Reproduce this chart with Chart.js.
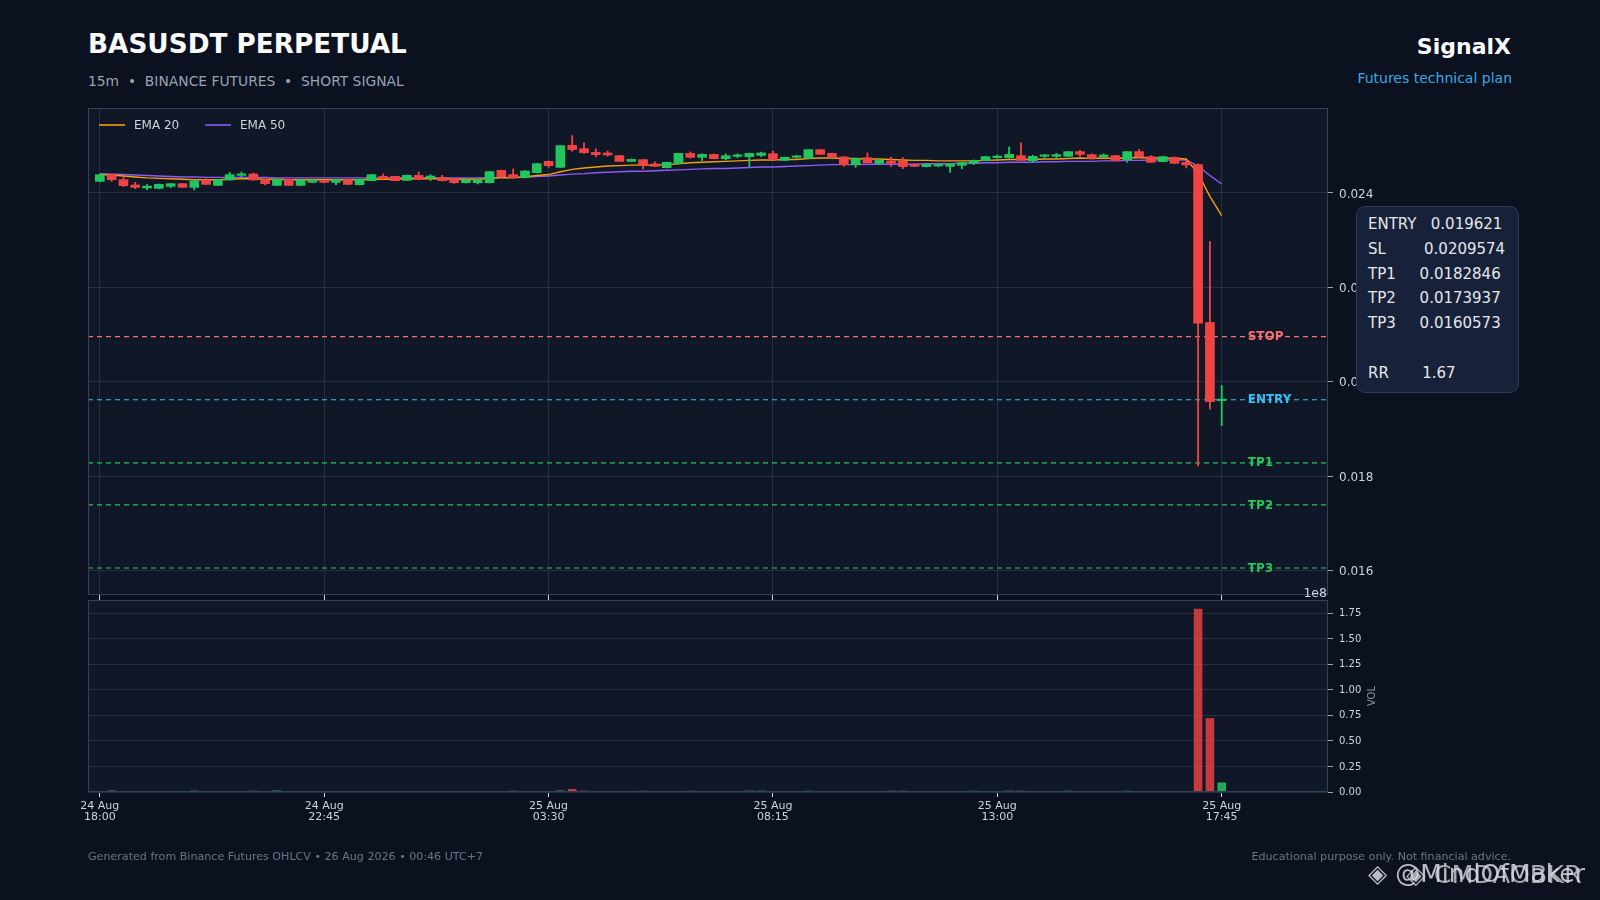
<!DOCTYPE html>
<html><head><meta charset="utf-8">
<script src="https://cdn.jsdelivr.net/npm/chart.js@4.4.1/dist/chart.umd.min.js"></script>
<style>
html,body{margin:0;padding:0;background:#0b111e;width:1600px;height:900px;overflow:hidden;font-family:"DejaVu Sans",sans-serif;}
.t{position:absolute;white-space:pre;line-height:normal;}
canvas{position:absolute;left:0;}
#info{position:absolute;left:1356px;top:206px;width:161px;height:185px;background:#17223a;border:1px solid #2f3c52;border-radius:9px;}
#infotxt{position:absolute;left:11px;top:5px;font-size:15px;line-height:24.75px;color:#e5e7eb;white-space:pre;}
</style></head><body>
<div class="t" style="left:88px;top:28.6px;font-size:26.3px;font-weight:bold;color:#f8fafc">BASUSDT PERPETUAL</div>
<div class="t" style="left:88px;top:73.4px;font-size:13.85px;color:#9aa3b2">15m  •  BINANCE FUTURES  •  SHORT SIGNAL</div>
<div class="t" style="right:89px;top:34px;font-size:22px;font-weight:bold;color:#f8fafc">SignalX</div>
<div class="t" style="right:88px;top:70px;font-size:14px;color:#38a9e2">Futures technical plan</div>
<canvas id="main" width="1600" height="610" style="top:0"></canvas>
<canvas id="vol" width="1600" height="320" style="top:580px"></canvas>
<div id="info"><div id="infotxt"></div></div>
<div class="t" style="left:88px;top:849.7px;font-size:11.1px;color:#6b7585">Generated from Binance Futures OHLCV • 26 Aug 2026 • 00:46 UTC+7</div>
<div class="t" style="right:89px;top:849.7px;font-size:11.1px;color:#6b7585">Educational purpose only. Not financial advice.</div>
<div class="t" style="left:1368px;top:859px;font-size:25px;color:rgba(215,218,224,0.85)">◈ @MindOfMaker</div>
<div class="t" style="left:1406px;top:859px;font-size:25.5px;color:rgba(215,218,224,0.75)">◈ CMDAOBKR</div>
<script>
// ---------- DATA ----------
const tickIndex = [0, 19, 38, 57, 76, 95];
const tickLabels = [['24 Aug','18:00'],['24 Aug','22:45'],['25 Aug','03:30'],['25 Aug','08:15'],['25 Aug','13:00'],['25 Aug','17:45']];

const openP = [0.024246,0.024388,0.024282,0.024170,0.024106,0.024098,0.024140,0.024197,0.024119,0.024276,
0.024161,0.024276,0.024373,0.024403,0.024282,0.024161,0.024288,0.024161,0.024225,0.024254,
0.024225,0.024282,0.024176,0.024261,0.024352,0.024352,0.024267,0.024373,0.024320,0.024331,
0.024297,0.024218,0.024218,0.024218,0.024479,0.024388,0.024324,0.024430,0.024670,0.024543,
0.025010,0.024939,0.024860,0.024848,0.024791,0.024670,0.024706,0.024615,0.024536,0.024628,
0.024839,0.024755,0.024818,0.024727,0.024776,0.024770,0.024797,0.024833,0.024691,0.024755,
0.024734,0.024918,0.024839,0.024763,0.024600,0.024748,0.024628,0.024678,0.024670,0.024594,
0.024558,0.024572,0.024564,0.024585,0.024628,0.024685,0.024748,0.024748,0.024791,0.024685,
0.024776,0.024776,0.024776,0.024876,0.024812,0.024770,0.024791,0.024706,0.024876,0.024770,
0.024664,0.024755,0.024649,0.024600,0.021257,0.019603];
const highP = [0.024400,0.024400,0.024330,0.024225,0.024176,0.024190,0.024205,0.024205,0.024260,0.024303,
0.024282,0.024437,0.024445,0.024420,0.024290,0.024295,0.024295,0.024282,0.024290,0.024265,
0.024290,0.024290,0.024300,0.024395,0.024403,0.024360,0.024380,0.024445,0.024388,0.024375,
0.024305,0.024285,0.024290,0.024460,0.024485,0.024509,0.024472,0.024630,0.024680,0.025010,
0.025215,0.025060,0.024933,0.024890,0.024800,0.024720,0.024712,0.024660,0.024655,0.024845,
0.024870,0.024830,0.024825,0.024830,0.024830,0.024845,0.024865,0.024890,0.024760,0.024800,
0.024925,0.024925,0.024845,0.024770,0.024735,0.024848,0.024720,0.024763,0.024748,0.024620,
0.024615,0.024615,0.024620,0.024650,0.024700,0.024775,0.024806,0.024975,0.025060,0.024800,
0.024818,0.024840,0.024880,0.024905,0.024830,0.024830,0.024800,0.024880,0.024918,0.024790,
0.024775,0.024765,0.024690,0.024615,0.022974,0.019921];
const lowP = [0.024235,0.024246,0.024134,0.024091,0.024070,0.024090,0.024112,0.024112,0.024064,0.024175,
0.024155,0.024270,0.024346,0.024270,0.024170,0.024155,0.024155,0.024155,0.024215,0.024215,
0.024176,0.024175,0.024170,0.024255,0.024295,0.024255,0.024260,0.024280,0.024261,0.024255,
0.024200,0.024210,0.024190,0.024210,0.024340,0.024318,0.024318,0.024425,0.024543,0.024535,
0.024882,0.024840,0.024763,0.024780,0.024665,0.024665,0.024509,0.024560,0.024530,0.024620,
0.024735,0.024685,0.024720,0.024700,0.024750,0.024564,0.024770,0.024700,0.024685,0.024735,
0.024730,0.024815,0.024750,0.024564,0.024543,0.024640,0.024600,0.024564,0.024515,0.024560,
0.024550,0.024555,0.024437,0.024509,0.024600,0.024680,0.024734,0.024740,0.024685,0.024650,
0.024750,0.024745,0.024770,0.024775,0.024725,0.024760,0.024680,0.024650,0.024760,0.024645,
0.024660,0.024625,0.024530,0.018220,0.019421,0.019073];
const closeP = [0.024388,0.024282,0.024155,0.024119,0.024148,0.024182,0.024197,0.024119,0.024254,0.024182,
0.024276,0.024388,0.024388,0.024276,0.024197,0.024288,0.024161,0.024276,0.024261,0.024225,
0.024282,0.024182,0.024288,0.024388,0.024303,0.024261,0.024373,0.024288,0.024360,0.024261,
0.024218,0.024276,0.024282,0.024452,0.024346,0.024324,0.024466,0.024621,0.024579,0.025003,
0.024918,0.024854,0.024812,0.024806,0.024670,0.024712,0.024585,0.024564,0.024649,0.024839,
0.024755,0.024818,0.024727,0.024791,0.024806,0.024839,0.024848,0.024706,0.024755,0.024776,
0.024918,0.024818,0.024755,0.024600,0.024727,0.024642,0.024691,0.024628,0.024558,0.024564,
0.024607,0.024585,0.024615,0.024642,0.024685,0.024770,0.024776,0.024818,0.024691,0.024776,
0.024797,0.024812,0.024876,0.024818,0.024734,0.024806,0.024685,0.024876,0.024763,0.024649,
0.024770,0.024628,0.024594,0.021244,0.019582,0.019630];
const volume = [3e5,1.2e6,4e5,3e5,3e5,4e5,3e5,3e5,1.0e6,3e5,
3e5,4e5,3e5,1.0e6,3e5,1.2e6,3e5,3e5,3e5,3e5,
3e5,3e5,3e5,4e5,3e5,3e5,3e5,3e5,3e5,3e5,
3e5,3e5,3e5,4e5,4e5,1.0e6,3e5,4e5,4e5,1.2e6,
2.6e6,1.0e6,4e5,3e5,4e5,3e5,0.9e6,3e5,3e5,4e5,
0.9e6,3e5,3e5,3e5,3e5,1.0e6,1.0e6,4e5,3e5,3e5,
0.9e6,3e5,3e5,4e5,3e5,3e5,3e5,1.0e6,1.0e6,3e5,
3e5,3e5,3e5,3e5,0.9e6,3e5,3e5,1.0e6,1.0e6,3e5,
3e5,3e5,0.9e6,3e5,3e5,3e5,3e5,0.9e6,4e5,3e5,
3e5,4e5,4e5,1.79e8,7.2e7,9.0e6];
const ema20 = [0.02439,0.02438,0.02436,0.02434,0.02432,0.02431,0.02430,0.02429,0.02428,0.02428,
0.02428,0.02429,0.02430,0.02430,0.02429,0.02429,0.02428,0.02428,0.02428,0.02428,
0.02428,0.02428,0.02428,0.02429,0.02429,0.02429,0.02430,0.02430,0.02430,0.02430,
0.02429,0.02429,0.02429,0.02431,0.02432,0.02432,0.02434,0.02437,0.02439,0.02445,
0.02450,0.02453,0.02455,0.02457,0.02458,0.02459,0.02459,0.02459,0.02460,0.02462,
0.02464,0.02465,0.02466,0.02467,0.02468,0.02469,0.02470,0.02470,0.02471,0.02471,
0.02473,0.02474,0.02474,0.02473,0.02473,0.02472,0.02472,0.02471,0.02470,0.02469,
0.02469,0.02468,0.02468,0.02468,0.02468,0.02469,0.02470,0.02471,0.02471,0.02471,
0.02472,0.02472,0.02473,0.02474,0.02473,0.02474,0.02473,0.02474,0.02475,0.02474,
0.02474,0.02473,0.02472,0.02441,0.02393,0.02352];
const ema50 = [0.02441,0.02440,0.02439,0.02438,0.02437,0.02436,0.02435,0.02434,0.02434,0.02433,
0.02433,0.02433,0.02433,0.02433,0.02433,0.02432,0.02432,0.02432,0.02432,0.02432,
0.02432,0.02432,0.02432,0.02432,0.02432,0.02432,0.02432,0.02432,0.02432,0.02432,
0.02432,0.02432,0.02432,0.02432,0.02433,0.02433,0.02434,0.02435,0.02436,0.02438,
0.02440,0.02441,0.02443,0.02444,0.02445,0.02446,0.02446,0.02447,0.02448,0.02449,
0.02450,0.02451,0.02452,0.02452,0.02453,0.02454,0.02455,0.02455,0.02456,0.02457,
0.02458,0.02459,0.02460,0.02460,0.02460,0.02461,0.02461,0.02461,0.02461,0.02461,
0.02462,0.02462,0.02462,0.02463,0.02463,0.02464,0.02464,0.02465,0.02465,0.02465,
0.02466,0.02466,0.02467,0.02467,0.02467,0.02468,0.02468,0.02469,0.02469,0.02470,
0.02470,0.02470,0.02470,0.02457,0.02437,0.02419];

const levelNames = ['STOP','ENTRY','TP1','TP2','TP3'];
const levelValues = [0.0209574, 0.019621, 0.0182846, 0.0173937, 0.0160573];
const priceTicks = [0.016, 0.018, 0.020, 0.022, 0.024];
const volTicks = [0, 0.25e8, 0.5e8, 0.75e8, 1.0e8, 1.25e8, 1.5e8, 1.75e8];
const infoLabels = ['ENTRY','SL','TP1','TP2','TP3','','RR'];
const infoValues = ['0.019621','0.0209574','0.0182846','0.0173937','0.0160573','','1.67'];
const infoGaps = ['   ','        ','     ','     ','     ','','       '];

// ---------- STYLE ----------
const FONT = '"DejaVu Sans", sans-serif';
const UP = '#22c55e', DOWN = '#ef4444';
const PANEL = '#101726', GRID = '#243042', SPINE = '#334155', TICKC = '#cbd5e1';
const levelColors = ['#f87171','#38bdf8','#22c55e','#22c55e','#22c55e'];
const X_MIN = -1, X_MAX = 104, LABEL_X = 97.2;
const Y_MIN = 0.015485, Y_MAX = 0.0258;

document.getElementById('infotxt').textContent =
  infoLabels.map((l,i)=> l ? l + infoGaps[i] + infoValues[i] : '').join('\n');

const isUp = closeP.map((c,i)=> c >= openP[i]);
const candleColors = isUp.map(u => u ? UP : DOWN);
const volColors = isUp.map(u => u ? 'rgba(34,197,94,0.85)' : 'rgba(239,68,68,0.8)');

const panelPlugin = {
  id: 'panel',
  beforeDraw(chart) {
    const {ctx, chartArea: a} = chart;
    ctx.save(); ctx.fillStyle = PANEL;
    ctx.fillRect(a.left, a.top, a.right - a.left, a.bottom - a.top);
    ctx.restore();
  },
  afterDraw(chart) {
    const {ctx, chartArea: a} = chart;
    ctx.save();
    ctx.strokeStyle = SPINE; ctx.lineWidth = 1;
    ctx.strokeRect(Math.round(a.left) + 0.5, Math.round(a.top) + 0.5, Math.round(a.right - a.left) - 1, Math.round(a.bottom - a.top) - 1);
    const o = chart.options.plugins.panel || {};
    if (o.legend) {
      ctx.font = '12px ' + FONT; ctx.textBaseline = 'middle'; ctx.textAlign = 'left';
      const y = a.top + 17;
      const items = [{c:'#f59e0b', t:'EMA 20', x:11}, {c:'#8b5cf6', t:'EMA 50', x:117}];
      items.forEach(it => {
        ctx.strokeStyle = it.c; ctx.lineWidth = 1.6;
        ctx.beginPath(); ctx.moveTo(a.left + it.x, y); ctx.lineTo(a.left + it.x + 26, y); ctx.stroke();
        ctx.fillStyle = '#d1d5db'; ctx.fillText(it.t, a.left + it.x + 35, y + 0.5);
      });
    }
    if (o.levels) {
      const xs = chart.scales.x, ys = chart.scales.y;
      ctx.font = 'bold 12px ' + FONT; ctx.textBaseline = 'middle'; ctx.textAlign = 'left';
      levelNames.forEach((nm, k) => {
        ctx.fillStyle = levelColors[k];
        ctx.fillText(nm, xs.getPixelForValue(LABEL_X), ys.getPixelForValue(levelValues[k]) + 0.5);
      });
    }
    if (o.vol) {
      ctx.fillStyle = TICKC; ctx.font = '12.5px ' + FONT;
      ctx.textAlign = 'right'; ctx.textBaseline = 'alphabetic';
      ctx.fillText('1e8', a.right - 1, a.top - 3.5);
      ctx.save();
      ctx.translate(1372, (a.top + a.bottom) / 2);
      ctx.rotate(-Math.PI / 2);
      ctx.fillStyle = '#8b95a5'; ctx.font = '10px ' + FONT;
      ctx.textAlign = 'center'; ctx.textBaseline = 'middle';
      ctx.fillText('VOL', 0, 0);
      ctx.restore();
    }
    ctx.restore();
  }
};

Chart.defaults.font.family = FONT;

const levelSets = levelValues.map((v, k) => ({
  type: 'line', data: [{x: X_MIN, y: v}, {x: X_MAX, y: v}],
  borderColor: levelColors[k], borderWidth: 1.2, borderDash: [5, 4],
  pointRadius: 0, order: 20
}));

new Chart(document.getElementById('main'), {
  type: 'bar',
  data: { datasets: [
    ...levelSets,
    { type: 'line', label: 'EMA 20', data: ema20.map((v,i)=>({x:i, y:v})), borderColor: '#f59e0b', borderWidth: 1.4, pointRadius: 0, tension: 0, order: 9 },
    { type: 'line', label: 'EMA 50', data: ema50.map((v,i)=>({x:i, y:v})), borderColor: '#8b5cf6', borderWidth: 1.4, pointRadius: 0, tension: 0, order: 10 },
    { type: 'bar', label: 'wick', data: highP.map((h,i)=>({x:i, y:[lowP[i], h]})), backgroundColor: candleColors, barThickness: 1.2, grouped: false, order: 5 },
    { type: 'bar', label: 'body', data: openP.map((o,i)=>({x:i, y:[o, closeP[i]]})), backgroundColor: candleColors, barThickness: 9, minBarLength: 1.5, grouped: false, order: 4 }
  ]},
  options: {
    responsive: false, animation: false, devicePixelRatio: 1,
    layout: { padding: { left: 88, top: 108, right: 202, bottom: 9 } },
    plugins: { legend: { display: false }, tooltip: { enabled: false }, panel: { legend: true, levels: true } },
    scales: {
      x: { type: 'linear', min: X_MIN, max: X_MAX, offset: false,
        afterBuildTicks: s => { s.ticks = tickIndex.map(v => ({value: v})); },
        ticks: { callback: () => '', padding: 0 },
        grid: { color: GRID, tickColor: TICKC, tickLength: 5, offset: false },
        border: { display: false },
        afterFit: s => { s.height = 6; } },
      y: { position: 'right', min: Y_MIN, max: Y_MAX,
        afterBuildTicks: s => { s.ticks = priceTicks.map(v => ({value: v})); },
        ticks: { callback: v => v.toFixed(3), color: TICKC, font: { size: 12 }, padding: 6, labelOffset: 1.5 },
        grid: { color: GRID, tickColor: '#94a3b8', tickLength: 5 },
        border: { display: false },
        afterFit: s => { s.width = 70; } }
    }
  },
  plugins: [panelPlugin]
});

new Chart(document.getElementById('vol'), {
  type: 'bar',
  data: { datasets: [
    { label: 'VOL', data: volume.map((v,i)=>({x:i, y:v})), backgroundColor: volColors, barThickness: 8, grouped: false }
  ]},
  options: {
    responsive: false, animation: false, devicePixelRatio: 1,
    layout: { padding: { left: 88, top: 20, right: 202, bottom: 68 } },
    plugins: { legend: { display: false }, tooltip: { enabled: false }, panel: { vol: true } },
    scales: {
      x: { type: 'linear', min: X_MIN, max: X_MAX, offset: false,
        afterBuildTicks: s => { s.ticks = tickIndex.map(v => ({value: v})); },
        ticks: { callback: v => tickLabels[tickIndex.indexOf(v)] || '', color: TICKC, font: { size: 11, lineHeight: 1.03 }, padding: 3, maxRotation: 0, autoSkip: false },
        grid: { drawOnChartArea: false, tickColor: TICKC, tickLength: 5, offset: false },
        border: { display: false },
        afterFit: s => { s.height = 40; } },
      y: { position: 'right', min: 0, max: 1.88e8,
        afterBuildTicks: s => { s.ticks = volTicks.map(v => ({value: v})); },
        ticks: { callback: v => (v / 1e8).toFixed(2), color: TICKC, font: { size: 10 }, padding: 6, labelOffset: 0.5 },
        grid: { color: GRID, tickColor: '#94a3b8', tickLength: 5 },
        border: { display: false },
        afterFit: s => { s.width = 70; } }
    }
  },
  plugins: [panelPlugin]
});
</script>
</body></html>
